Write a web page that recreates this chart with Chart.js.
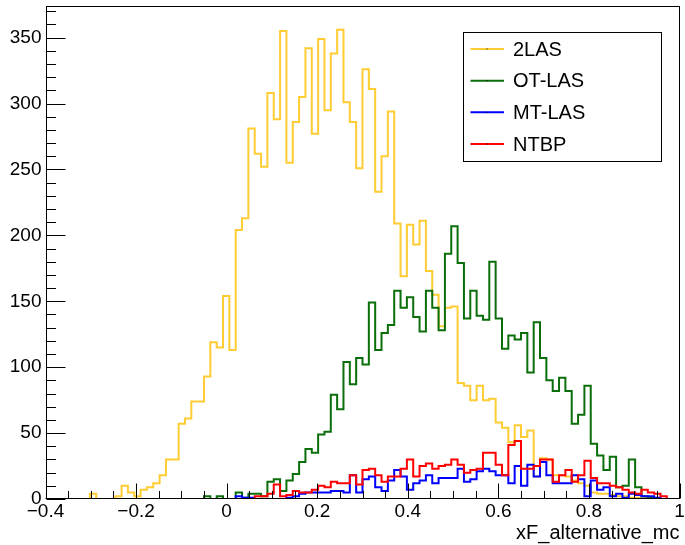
<!DOCTYPE html>
<html>
<head>
<meta charset="utf-8">
<script src="https://cdn.jsdelivr.net/npm/chart.js@4.4.1/dist/chart.umd.min.js"></script>
<style>
  html, body { margin: 0; padding: 0; background: #ffffff; }
  #c { display: block; }
</style>
</head>
<body>
<canvas id="c" width="685" height="545"></canvas>
<script>
// Histogram binning: 100 bins of xF between -0.4 and 1.0
const xMin = -0.4;
const xMax = 1.0;
const nBins = 100;
const binWidth = (xMax - xMin) / nBins;
const binEdges = Array.from({ length: nBins + 1 }, (_, i) => +(xMin + i * binWidth).toFixed(4));

const seriesNames = ['2LAS', 'OT-LAS', 'MT-LAS', 'NTBP'];

// Bin contents, one entry per bin (left to right)
const counts2LAS = [
  0, 0, 0, 0, 0, 0, 0, 4, 0, 0,
  0, 2, 10, 5, 2, 7, 9, 12, 18, 30,
  30, 57, 61, 74, 74, 93, 119, 115, 154, 113,
  204, 213, 281, 262, 252, 308, 288, 355, 255, 286,
  305, 342, 277, 349, 295, 338, 356, 301, 286, 251,
  326, 311, 233, 260, 294, 209, 169, 208, 193, 211,
  173, 155, 131, 145, 146, 88, 86, 75, 86, 75,
  76, 58, 54, 43, 56, 47, 52, 17, 31, 30,
  18, 18, 17, 14, 12, 10, 5, 4, 4, 3,
  2, 2, 1, 1, 1, 0, 0, 0, 0, 0
];
const countsOTLAS = [
  0, 0, 0, 0, 0, 0, 0, 0, 0, 0,
  0, 0, 0, 0, 0, 0, 0, 0, 0, 0,
  0, 0, 0, 0, 0, 2, 0, 2, 0, 0,
  5, 1, 4, 4, 2, 13, 15, 6, 14, 19,
  28, 38, 35, 49, 51, 79, 68, 104, 87, 107,
  102, 149, 113, 126, 132, 158, 145, 153, 138, 127,
  158, 145, 128, 186, 207, 179, 137, 158, 139, 136,
  180, 137, 114, 124, 121, 126, 96, 134, 107, 90,
  82, 92, 82, 57, 64, 86, 42, 33, 22, 32,
  9, 10, 30, 9, 2, 1, 0, 0, 0, 0
];
const countsMTLAS = [
  0, 0, 0, 0, 0, 0, 0, 0, 0, 0,
  0, 0, 0, 0, 0, 0, 0, 0, 0, 0,
  0, 0, 0, 0, 0, 0, 0, 0, 0, 0,
  2, 1, 1, 0, 0, 0, 0, 0, 1, 2,
  4, 5, 5, 5, 5, 6, 6, 5, 18, 5,
  15, 17, 9, 6, 14, 22, 17, 7, 12, 14,
  18, 12, 16, 16, 16, 23, 13, 15, 21, 23,
  21, 18, 18, 12, 25, 10, 26, 17, 28, 18,
  12, 12, 12, 18, 15, 2, 14, 7, 9, 2,
  4, 1, 4, 3, 2, 2, 1, 0, 0, 0
];
const countsNTBP = [
  0, 0, 0, 0, 0, 0, 0, 0, 0, 0,
  0, 0, 0, 0, 0, 0, 0, 0, 0, 0,
  0, 0, 0, 0, 0, 0, 0, 0, 0, 0,
  0, 0, 0, 2, 2, 4, 11, 2, 3, 6,
  5, 5, 7, 10, 9, 13, 12, 12, 18, 11,
  22, 23, 18, 13, 17, 17, 23, 30, 17, 25,
  27, 23, 25, 26, 30, 26, 20, 22, 23, 35,
  35, 26, 18, 41, 44, 23, 23, 25, 30, 30,
  13, 18, 22, 13, 18, 29, 16, 12, 12, 10,
  9, 7, 5, 4, 7, 5, 4, 2, 0, 0
];

// Axis ticks
const xTickValues = [-0.4, -0.2, 0, 0.2, 0.4, 0.6, 0.8, 1.0];
const yTickValues = [0, 50, 100, 150, 200, 250, 300, 350];
const yMax = 374;

const seriesColors = ['#ffcc33', '#0a6e0a', '#0000ff', '#ff0000'];
const FONT = "'Liberation Sans', Arial, Helvetica, sans-serif";

// Turn bin contents into a step outline: one point per left bin edge plus the closing right edge
function histPoints(counts) {
  const pts = counts.map((v, i) => ({ x: binEdges[i], y: v }));
  pts.push({ x: binEdges[nBins], y: counts[nBins - 1] });
  return pts;
}

const allCounts = [counts2LAS, countsOTLAS, countsMTLAS, countsNTBP];
const datasets = seriesNames.map((name, k) => ({
  label: name,
  data: histPoints(allCounts[k]),
  borderColor: seriesColors[k],
  backgroundColor: seriesColors[k],
  borderWidth: 2,
  pointRadius: 0,
  fill: false,
  stepped: 'before',
  tension: 0,
  order: seriesNames.length - k   // later series are painted on top
}));

function fmtX(v) {
  const r = Math.round(v * 10) / 10;
  if (r === 0) return '0';
  return (r < 0 ? '\u2212' : '') + String(Math.abs(r));
}

// Frame with inward ticks, ROOT style
const framePlugin = {
  id: 'rootFrame',
  afterDatasetsDraw(chart) {
    const { ctx, chartArea: a, scales: { x, y } } = chart;
    const L = Math.round(a.left) + 0.5, R = Math.round(a.right) - 0.5;
    const T = Math.round(a.top) + 0.5, B = Math.round(a.bottom) - 0.5;
    ctx.save();
    ctx.strokeStyle = '#000';
    ctx.lineWidth = 1;
    ctx.beginPath();
    // y ticks: major every 50, minor every 10
    for (let v = 0; v <= yMax + 1e-6; v += 10) {
      const py = Math.round(y.getPixelForValue(v)) + 0.5;
      const len = (v % 50 === 0) ? 19 : 9.5;
      ctx.moveTo(L, py); ctx.lineTo(L + len, py);
    }
    // x ticks: major every 0.2, minor every 0.05
    for (let i = 0; i <= 28; i++) {
      const v = xMin + i * 0.05;
      const px = Math.round(x.getPixelForValue(v)) + 0.5;
      const len = (i % 4 === 0) ? 15 : 7.5;
      ctx.moveTo(px, B); ctx.lineTo(px, B - len);
    }
    ctx.stroke();
    ctx.strokeStyle = '#000';
    ctx.strokeRect(L, T, R - L, B - T);
    ctx.restore();
  }
};

// Boxed legend inside the frame
const legendPlugin = {
  id: 'rootLegend',
  afterDraw(chart) {
    const { ctx } = chart;
    const bx = 463.5, by = 32.5, bw = 198, bh = 129;
    ctx.save();
    ctx.fillStyle = '#fff';
    ctx.fillRect(bx, by, bw, bh);
    ctx.strokeStyle = '#000';
    ctx.lineWidth = 1;
    ctx.strokeRect(bx, by, bw, bh);
    const rowY = [49, 80.7, 112.3, 144];
    chart.data.datasets.forEach((ds, k) => {
      const yy = rowY[k];
      ctx.strokeStyle = ds.borderColor;
      ctx.lineWidth = 2;
      ctx.beginPath();
      ctx.moveTo(470.5, yy); ctx.lineTo(504, yy);
      ctx.stroke();
      ctx.fillStyle = '#000';
      ctx.fillRect(486.5, yy - 0.5, 1, 1);
      ctx.fillStyle = '#000';
      ctx.font = '20px ' + FONT;
      ctx.textAlign = 'left';
      ctx.textBaseline = 'middle';
      ctx.fillText(ds.label, 513, yy + 1);
    });
    ctx.restore();
  }
};

new Chart(document.getElementById('c'), {
  type: 'line',
  data: { datasets },
  options: {
    responsive: false,
    animation: false,
    devicePixelRatio: 1,
    layout: { padding: { top: 6, right: 5.5, left: 0, bottom: 0 } },
    plugins: { legend: { display: false }, tooltip: { enabled: false } },
    elements: { line: { borderJoinStyle: 'miter', borderCapStyle: 'butt' } },
    scales: {
      x: {
        type: 'linear',
        min: xMin,
        max: xMax,
        grid: { display: false, drawTicks: false },
        border: { display: false },
        afterBuildTicks: (s) => { s.ticks = xTickValues.map(v => ({ value: v })); },
        afterFit: (s) => { s.height = 46; s.paddingLeft = 0; s.paddingRight = 0; },
        ticks: {
          autoSkip: false,
          maxRotation: 0,
          padding: 1,
          color: '#000',
          font: { family: FONT, size: 19 },
          callback: (v) => fmtX(v)
        },
        title: {
          display: true,
          text: 'xF_alternative_mc',
          align: 'end',
          color: '#000',
          font: { family: FONT, size: 20 },
          padding: { top: 0, bottom: 0 }
        }
      },
      y: {
        type: 'linear',
        min: 0,
        max: yMax,
        grid: { display: false, drawTicks: false },
        border: { display: false },
        afterBuildTicks: (s) => { s.ticks = yTickValues.map(v => ({ value: v })); },
        afterFit: (s) => { s.width = 45.5; s.paddingTop = 0; s.paddingBottom = 0; },
        ticks: {
          padding: 4,
          color: '#000',
          font: { family: FONT, size: 19 },
          callback: (v) => String(v)
        }
      }
    }
  },
  plugins: [framePlugin, legendPlugin]
});
</script>
</body>
</html>
